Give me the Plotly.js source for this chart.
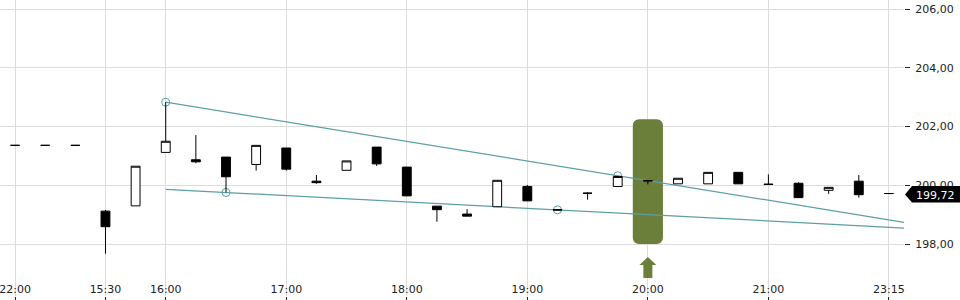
<!DOCTYPE html>
<html><head><meta charset="utf-8">
<script src="https://cdn.plot.ly/plotly-3.0.1.min.js"></script>
<style>html,body{margin:0;padding:0;background:#fff}#chart{width:960px;height:300px}</style>
</head><body><div id="chart"></div>
<script>
// 15-minute candles (category labels)
const times = ["04.03. 22:00","05.03. 08:00","05.03. 09:00","05.03. 15:30","05.03. 15:45",
  "05.03. 16:00","05.03. 16:15","05.03. 16:30","05.03. 16:45","05.03. 17:00",
  "05.03. 17:15","05.03. 17:30","05.03. 17:45","05.03. 18:00","05.03. 18:15",
  "05.03. 18:30","05.03. 18:45","05.03. 19:00","05.03. 19:15","05.03. 19:30",
  "05.03. 19:45","05.03. 20:00","05.03. 20:15","05.03. 20:30","05.03. 20:45",
  "05.03. 21:00","05.03. 21:15","05.03. 21:30","05.03. 21:45","05.03. 23:15"];
const open  = [201.36,201.36,201.36,199.12,199.30,201.12,200.87,200.96,200.71,201.27,
               200.14,200.51,201.30,200.62,199.29,199.02,199.27,199.96,199.17,199.73,
               199.96,200.16,200.05,200.05,200.44,200.04,200.07,199.83,200.14,199.72];
const high  = [201.36,201.36,201.36,199.16,200.65,202.83,201.71,200.96,201.36,201.27,
               200.35,200.83,201.30,200.62,199.29,199.19,200.17,200.01,199.17,199.76,
               200.30,200.16,200.24,200.44,200.44,200.37,200.10,199.93,200.35,199.72];
const low   = [201.36,201.36,201.36,197.67,199.30,201.12,200.75,199.76,200.50,200.50,
               200.05,200.51,200.66,199.64,198.76,198.95,199.27,199.47,199.16,199.51,
               199.96,200.03,200.05,200.05,200.05,200.03,199.58,199.71,199.58,199.72];
const close = [201.36,201.36,201.36,198.59,200.65,201.50,200.80,200.29,201.36,200.55,
               200.09,200.83,200.73,199.64,199.17,198.95,200.17,199.47,199.16,199.73,
               200.30,200.15,200.24,200.44,200.05,200.03,199.58,199.93,199.68,199.72];

const tickTimes = ["04.03. 22:00","05.03. 15:30","05.03. 16:00","05.03. 17:00","05.03. 18:00",
                   "05.03. 19:00","05.03. 20:00","05.03. 21:00","05.03. 23:15"];
const yTicks = [198, 200, 202, 204, 206];

// trend channel touch points
const upperTouchTimes  = ["05.03. 16:00","05.03. 19:45"];
const upperTouchValues = [202.83, 200.325];
const lowerTouchTimes  = ["05.03. 16:30","05.03. 19:15"];
const lowerTouchValues = [199.755, 199.163];
const lowerLineStart   = "05.03. 16:00";

// event marker
const eventTimes = ["05.03. 20:00"];
const eventLow   = [198.0];
const eventHigh  = [202.25];

const idx = t => times.indexOf(t);
const xs = times.map((t, i) => i);
const xMax = times.length - 0.5;
const yRange = [196.23, 206.31];
const teal = '#5d9fa7';
const green = '#6b7e3a';
const font = {family: 'DejaVu Sans, sans-serif', size: 11, color: '#222'};

function trend(tTimes, tVals, startTime) {
  const i1 = idx(tTimes[0]), i2 = idx(tTimes[1]);
  const slope = (tVals[1] - tVals[0]) / (i2 - i1);
  const s = idx(startTime);
  return {x: [s, xMax], y: [tVals[0] + slope * (s - i1), tVals[0] + slope * (xMax - i1)]};
}
const up = trend(upperTouchTimes, upperTouchValues, upperTouchTimes[0]);
const lo = trend(lowerTouchTimes, lowerTouchValues, lowerLineStart);

const evX = eventTimes.map(idx);

const traces = [
  { type: 'bar', x: evX, base: eventLow,
    y: eventHigh.map((h, i) => h - eventLow[i]),
    width: 1, marker: {color: green, cornerradius: 6, line: {width: 0}},
    hoverinfo: 'skip', xaxis: 'x', yaxis: 'y' },
  { type: 'scatter', mode: 'lines', x: up.x, y: up.y, line: {color: teal, width: 1.2},
    hoverinfo: 'skip', xaxis: 'x', yaxis: 'y' },
  { type: 'scatter', mode: 'lines', x: lo.x, y: lo.y, line: {color: teal, width: 1.2},
    hoverinfo: 'skip', xaxis: 'x', yaxis: 'y' },
  { type: 'scatter', mode: 'markers',
    x: upperTouchTimes.concat(lowerTouchTimes).map(idx),
    y: upperTouchValues.concat(lowerTouchValues),
    marker: {symbol: 'circle-open', size: 8, color: teal, line: {width: 1, color: teal}},
    hoverinfo: 'skip', xaxis: 'x', yaxis: 'y' },
  { type: 'candlestick', x: xs, open: open, high: high, low: low, close: close,
    increasing: {line: {color: '#000', width: 1}, fillcolor: '#fff'},
    decreasing: {line: {color: '#000', width: 1}, fillcolor: '#000'},
    whiskerwidth: 0, hoverinfo: 'skip', xaxis: 'x', yaxis: 'y2' }
];

const last = close[close.length - 1];
const lastLabel = last.toFixed(2).replace('.', ',');

const layout = {
  width: 960, height: 300,
  margin: {l: 0, r: 56, t: 0, b: 4},
  paper_bgcolor: '#fff', plot_bgcolor: '#fff',
  showlegend: false, hovermode: false,
  separators: ',.',
  barmode: 'overlay',
  boxgap: 0.58,
  font: font,
  xaxis: {
    type: 'linear', range: [-0.5, xMax],
    tickvals: tickTimes.map(idx), ticktext: tickTimes.map(t => t.split(' ')[1]),
    ticks: 'outside', ticklen: 4, tickcolor: '#222', tickwidth: 1,
    ticklabelstandoff: -21, ticklabeloverflow: 'allow',
    showgrid: true, gridcolor: '#dcdcdc', gridwidth: 1,
    zeroline: false, showline: false,
    rangeslider: {visible: false}, tickfont: font
  },
  yaxis: {
    side: 'right', range: yRange, tickvals: yTicks, tickformat: '.2f',
    ticks: 'outside', ticklen: 5, tickcolor: '#222', tickwidth: 1,
    ticklabelstandoff: 3,
    showgrid: true, gridcolor: '#dcdcdc', gridwidth: 1,
    zeroline: false, showline: false, tickfont: font
  },
  yaxis2: {
    overlaying: 'y', side: 'right', range: yRange, visible: false,
    showgrid: false, zeroline: false
  },
  shapes: [
    { type: 'path', xref: 'x', xsizemode: 'pixel', xanchor: evX[0],
      yref: 'paper', ysizemode: 'pixel', yanchor: 0, layer: 'above',
      path: 'M0,39 L8.5,31 L4.5,31 L4.5,18 L-4.5,18 L-4.5,31 L-8.5,31 Z',
      fillcolor: green, line: {width: 0} },
    { type: 'path', xref: 'paper', xsizemode: 'pixel', xanchor: 1,
      yref: 'y', ysizemode: 'pixel', yanchor: last, layer: 'above',
      path: 'M1,-1 L8,7.5 L60,7.5 L60,-9 L8,-9 Z',
      fillcolor: '#000', line: {width: 0} }
  ],
  annotations: [
    { xref: 'paper', x: 1, yref: 'y', y: last, text: lastLabel, showarrow: false,
      xanchor: 'left', yanchor: 'middle', xshift: 10, yshift: -2,
      font: {family: 'DejaVu Sans, sans-serif', size: 11, color: '#fff'} }
  ]
};

Plotly.newPlot('chart', traces, layout, {displayModeBar: false, staticPlot: true});
</script>
</body></html>
